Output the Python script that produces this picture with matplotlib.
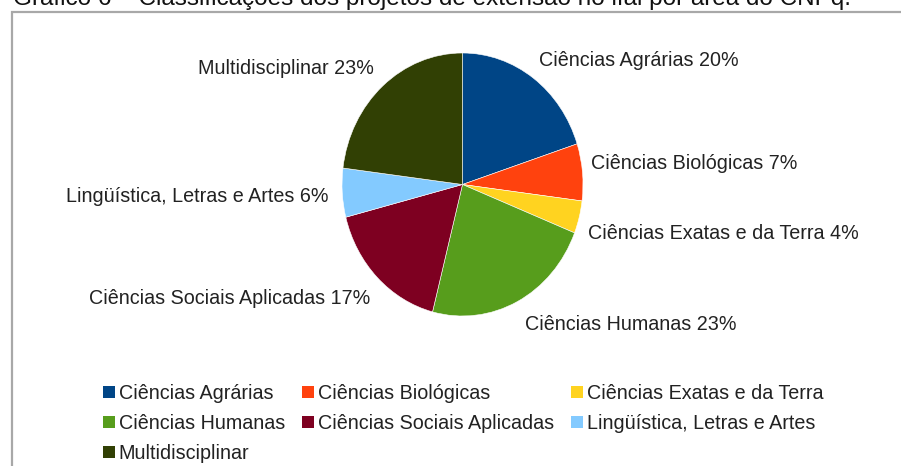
import matplotlib
matplotlib.use("Agg")
import matplotlib.pyplot as plt
from matplotlib.patches import Patch, Rectangle

plt.rcParams['font.family'] = ['Liberation Sans', 'DejaVu Sans']

W, H = 901, 466

areas = ['Ciências Agrárias', 'Ciências Biológicas', 'Ciências Exatas e da Terra',
         'Ciências Humanas', 'Ciências Sociais Aplicadas',
         'Lingüística, Letras e Artes', 'Multidisciplinar']
percentuais = [20, 7, 4, 23, 17, 6, 23]
cores = ['#004586', '#ff420e', '#ffd320', '#579d1c', '#7e0021', '#83caff', '#314004']

titulo = 'Gráfico 6 – Classificações dos projetos de extensão no ifal por área do CNPq.'

# posicao dos rotulos em pixels (x, y do centro, alinhamento)
pos_rotulos = [(539, 59, 'left'), (591, 162, 'left'), (588, 232, 'left'),
               (525, 323, 'left'), (370, 297, 'right'), (328, 195, 'right'),
               (374, 67, 'right')]


def px(x, y):
    # pixels (origem no topo) -> fracao da figura
    return x / W, 1 - y / H


fig = plt.figure(figsize=(W / 100, H / 100), dpi=100)

# moldura cinza que continua alem da borda da imagem
fig.patches.append(Rectangle(px(12, 12 + 500), 2, 500 / H, transform=fig.transFigure,
                             fill=False, edgecolor='#a8a8a8', linewidth=1.6))

# titulo cortado no topo
tx, ty = px(13, 4.5)
fig.text(tx, ty, titulo, fontsize=17.5, color='#111111', ha='left', va='baseline')

# pizza esticada na vertical (raios 120.5 x 131.5 px)
cx, cy, rx, ry = 462.5, 184.5, 120.5, 131.5
x0, y0 = px(cx - 1.25 * rx, cy + 1.25 * ry)
ax = fig.add_axes([x0, y0, 2.5 * rx / W, 2.5 * ry / H])
wedges, _ = ax.pie(percentuais, colors=cores, startangle=90, counterclock=False,
                   wedgeprops=dict(edgecolor='white', linewidth=0.4))
ax.set_aspect('auto')
ax.set_xlim(-1.25, 1.25)
ax.set_ylim(-1.25, 1.25)
ax.axis('off')

# rotulos com nome e percentual
for nome, pct, (lx, ly, ha) in zip(areas, percentuais, pos_rotulos):
    fx, fy = px(lx, ly + 7)
    fig.text(fx, fy, f'{nome} {pct}%', fontsize=14.2, color='#222222',
             ha=ha, va='baseline')

# legenda em 3 colunas (matplotlib preenche por coluna)
ordem = [0, 3, 6, 1, 4, 2, 5]
handles = [Patch(facecolor=cores[i], edgecolor='none') for i in ordem]
nomes = [areas[i] for i in ordem]
lx, ly = px(103, 384)
fig.legend(handles, nomes, ncol=3, loc='upper left', bbox_to_anchor=(lx, ly),
           frameon=False, fontsize=14.2, handlelength=0.6, handleheight=0.55,
           handletextpad=0.2, columnspacing=0.86, labelspacing=0.56,
           borderpad=0, borderaxespad=0, labelcolor='#222222')

fig.savefig('out.png', dpi=100)
